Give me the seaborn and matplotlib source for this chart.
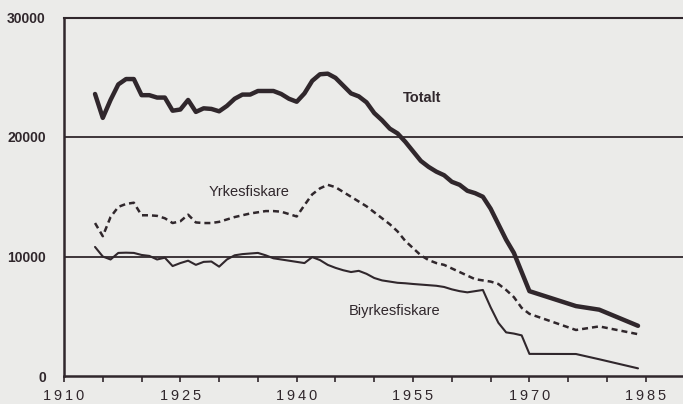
import matplotlib
matplotlib.use("Agg")
import matplotlib.pyplot as plt
import seaborn as sns
import pandas as pd
from matplotlib.ticker import MultipleLocator, FixedLocator

years = list(range(1914, 1971)) + [1976, 1979, 1984]

totalt = [23600, 21600, 23100, 24400, 24850, 24850, 23500, 23500, 23300, 23300,
          22200, 22300, 23100, 22100, 22400, 22350, 22150, 22600, 23200, 23550,
          23550, 23850, 23850, 23850, 23600, 23200, 22950, 23650, 24700, 25250,
          25300, 24950, 24300, 23650, 23400, 22900, 22000, 21400, 20700, 20300,
          19600, 18800, 18000, 17500, 17100, 16800, 16250, 16000, 15500, 15300,
          15000, 14000, 12700, 11400, 10300, 8700, 7100,
          5850, 5550, 4200]

yrkesfiskare = [12800, 11700, 13300, 14150, 14400, 14500, 13450, 13450, 13400, 13200,
                12800, 12950, 13500, 12850, 12800, 12800, 12900, 13100, 13300, 13450,
                13600, 13700, 13800, 13800, 13750, 13550, 13350, 14300, 15200, 15700,
                16000, 15800, 15400, 15000, 14600, 14200, 13700, 13200, 12700, 12100,
                11300, 10700, 10100, 9700, 9450, 9300, 9000, 8700, 8400, 8100,
                8000, 7900, 7700, 7200, 6600, 5700, 5200,
                3850, 4150, 3500]

biyrkesfiskare = [10800, 10000, 9750, 10300, 10320, 10300, 10130, 10050, 9750, 9900,
                  9200, 9450, 9650, 9300, 9550, 9580, 9150, 9750, 10100, 10200,
                  10250, 10300, 10100, 9850, 9750, 9650, 9550, 9450, 9950, 9700,
                  9300, 9050, 8850, 8700, 8800, 8550, 8200, 8000, 7900, 7800,
                  7760, 7700, 7650, 7600, 7550, 7450, 7250, 7100, 7000, 7100,
                  7200, 5750, 4450, 3650, 3550, 3400, 1850,
                  1840, 1400, 640]

y_ticks = [0, 10000, 20000, 30000]
x_ticks = [1910, 1925, 1940, 1955, 1970, 1985]
series_labels = ["Totalt", "Yrkesfiskare", "Biyrkesfiskare"]

BG = "#ebebe9"
INK = "#30272c"

sns.set_theme(style="white")
plt.rcParams["font.family"] = ["Liberation Sans", "DejaVu Sans"]

df = pd.DataFrame({"year": years, "Totalt": totalt,
                   "Yrkesfiskare": yrkesfiskare, "Biyrkesfiskare": biyrkesfiskare})

fig = plt.figure(figsize=(6.83, 4.04), dpi=100, facecolor=BG)
ax = fig.add_axes([64/683, 1 - 376/404, 1 - 64/683, (376 - 17.5)/404])
ax.set_facecolor(BG)

sns.lineplot(data=df, x="year", y="Totalt", ax=ax, color=INK, linewidth=3.2)
sns.lineplot(data=df, x="year", y="Yrkesfiskare", ax=ax, color=INK, linewidth=1.8,
             linestyle=(0, (2.4, 1.6)))
sns.lineplot(data=df, x="year", y="Biyrkesfiskare", ax=ax, color=INK, linewidth=1.5)

ax.set_xlim(1910, 1989.8)
ax.set_ylim(0, 30000)

for v in y_ticks[1:-1]:
    ax.axhline(v, color=INK, linewidth=1.3, zorder=0)

ax.set_yticks(y_ticks)
ax.set_yticklabels([str(v) for v in y_ticks], fontsize=10, fontweight="bold", color=INK)
ax.tick_params(axis="y", length=0, pad=13)

ax.xaxis.set_major_locator(FixedLocator(x_ticks))
ax.xaxis.set_minor_locator(MultipleLocator(5))
ax.set_xticklabels(["\u2009".join(str(v)) for v in x_ticks], fontsize=10.5, color=INK)
ax.tick_params(axis="x", which="both", direction="out", length=4, width=1.2,
               color=INK, pad=5, bottom=True)

ax.spines["right"].set_visible(False)
ax.spines["top"].set_color(INK)
ax.spines["top"].set_linewidth(1.5)
ax.spines["left"].set_color(INK)
ax.spines["left"].set_linewidth(1.8)
ax.spines["bottom"].set_color(INK)
ax.spines["bottom"].set_linewidth(1.8)

ax.set_xlabel("")
ax.set_ylabel("")

ax.text(1956.2, 23300, series_labels[0], fontsize=10.5, fontweight="bold",
        color=INK, ha="center", va="center")
ax.text(1933.8, 15430, series_labels[1], fontsize=10.5, color=INK,
        ha="center", va="center")
ax.text(1952.6, 5430, series_labels[2], fontsize=10.5, color=INK,
        ha="center", va="center")

fig.savefig("out.png", dpi=100, facecolor=BG)
